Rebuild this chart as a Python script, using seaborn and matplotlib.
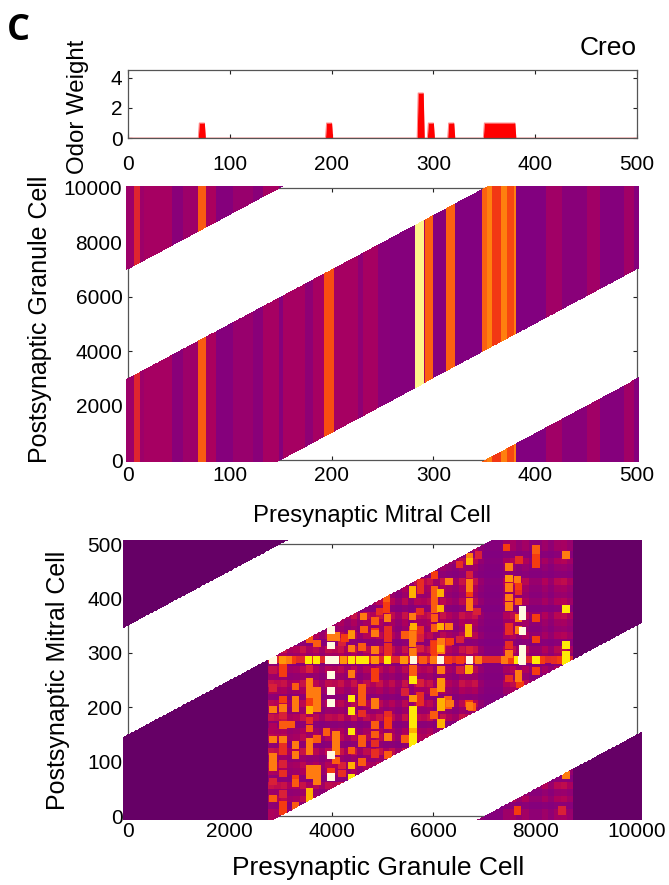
import matplotlib
matplotlib.use("Agg")
import matplotlib.pyplot as plt
import numpy as np
import seaborn as sns
from matplotlib.colors import LinearSegmentedColormap

W, H = 669, 885

# odor weight per mitral cell: start, end, weight
odor_bands = [(70, 75, 1), (195, 200, 1), (285, 290, 3), (295, 300, 1), (315, 320, 1), (350, 380, 1)]

# mitral cell column shading in the middle panel: end of band, level
mitral_ends = [6, 12, 16, 43, 54, 69, 77, 86, 103, 123, 133, 148, 152, 174, 182, 193, 202, 226, 231,
               246, 257, 282, 291, 292, 300, 312, 321, 348, 353, 358, 366, 372, 379, 381, 411, 426,
               451, 464, 487, 497, 501]
mitral_levels = [1.6, 3.2, 1.6, 1.8, 1.2, 1.6, 4.5, 1.9, 1.1, 1.5, 1.2, 1.8, 1.1, 1.8, 1.3, 1.8,
                 4.3, 1.8, 1.3, 1.8, 1.2, 1.1, 7.6, 2, 4.6, 1.1, 4.6, 1.05, 4.6, 5.1, 3.9, 5.1,
                 4.2, 5.1, 1.05, 1.7, 1.2, 1.7, 1.1, 1.7, 1.1]

# granule cell column background, one value per 125 cells from 2750 on
granule_base = [0.9, 0.8, 0.9, 0.5, 0.6, 0.9, 0.5, 0.7, 0.4, 0.8, 0.7, 0.9, 0.5, 0.9, 0.4, 0.8,
                0.6, 0.9, 0.5, 0.8, 0.4, 0.9, 0.3, 0.8, 0.7, 0.9, 0.4, 0.9, 0.6, 0.4, 0.9, 0.7,
                0.9, 0.3, 0.1, 0.1, 0.1, 0.6, 0.8, 0.4, 0.7, 0.3, 0.3, 0.6, 0.3, 0.7, 0.8, 0.5]
# mitral cell row background, one value per 12.5 cells
row_base = [0.3, 0.1, 0.4, 0.2, 0.5, 0.1, 0.3, 0.4, 0.2, 0.5, 0.1, 0.4, 0.3, 0.1, 0.5, 0.2,
            0.4, 0.1, 0.3, 0.5, 0.2, 0.4, 0.1, 0.3, 0.5, 0.1, 0.4, 0.2, 0.3, 0.5, 0.1, 0.4,
            0.2, 0.3, 0.5, 0.1, 0.2, 0.4, 0.1, 0.3]

# the strong row at mitral cell 287
ridge_x = [2855, 3032, 3150, 3229, 3543, 3707, 3936, 4067, 4231, 4381, 4558, 4657, 4853, 5096, 5423,
           5606, 5803, 6000, 6143, 6294, 6524, 6706, 6883, 7407, 7505, 7650, 7735, 8016, 8128, 8390,
           8500, 8600]
ridge_levels = [8, 5.5, 5, 4, 7, 7, 8, 8, 5.5, 7, 7, 7, 5.5, 7, 5.5,
                8, 4.5, 5, 8, 4, 4, 8, 5, 5, 4, 7, 8, 7, 4, 3.5,
                4, 7]

# bright cells: granule, mitral, level
left_cells = [
    (2849, 268, 2.5), (2849, 235, 3), (2849, 196, 5), (2849, 164, 2), (2849, 141, 5), (2849, 109, 5),
    (2849, 99, 5), (2849, 90, 5), (2849, 63, 3), (2849, 32, 4.5),
    (3045, 274, 4), (3045, 262, 4), (3045, 214, 4), (3045, 198, 5), (3045, 185, 3), (3045, 167, 4.5),
    (3045, 141, 5), (3045, 127, 3.5), (3045, 118, 3.5), (3045, 96, 3), (3045, 78, 3.5), (3045, 41, 3),
    (3045, 20, 4), (3045, 10, 4),
    (3281, 238, 4.5), (3281, 213, 5), (3281, 198, 5), (3200, 168, 4.5), (3281, 130, 5), (3281, 112, 5),
    (3281, 69, 4), (3281, 60, 4.5), (3281, 18, 4.5),
    (3556, 324, 4.5), (3556, 270, 3), (3556, 247, 5), (3556, 235, 5), (3556, 225, 5), (3556, 210, 4),
    (3556, 195, 6), (3556, 176, 3.5), (3556, 161, 4.5), (3556, 136, 5), (3556, 125, 5), (3556, 118, 5),
    (3556, 87, 5), (3556, 75, 5), (3556, 44, 6), (3556, 32, 6),
    (3713, 317, 4.5), (3713, 231, 5), (3713, 222, 5), (3713, 213, 5), (3713, 198, 5), (3713, 142, 4.5),
    (3713, 87, 5), (3713, 75, 5), (3713, 63, 5),
    (3988, 342, 8), (3988, 330, 5), (3988, 313, 8), (3988, 259, 8), (3988, 230, 8), (3988, 208, 8),
    (3900, 155, 4.5), (3988, 112, 8), (3988, 72, 8), (3988, 81, 4),
    (4086, 330, 5), (4086, 149, 5), (4086, 137, 5), (4086, 125, 5), (4086, 118, 5), (4086, 102, 4.5),
    (4200, 320, 3), (4200, 93, 3), (4200, 78, 3.5),
]
mid_cells = [
    (4381, 336, 5), (4381, 308, 4.5), (4381, 261, 5), (4381, 216, 7), (4381, 193, 7), (4381, 156, 7),
    (4381, 121, 4.5), (4381, 93, 6), (4381, 71, 7),
    (4597, 311, 4.5), (4597, 235, 4.5), (4597, 225, 4.5), (4597, 210, 4.5), (4597, 188, 3.5),
    (4597, 142, 4.5), (4597, 133, 4.5), (4597, 99, 4.5),
    (4853, 336, 5), (4853, 305, 5), (4853, 265, 4), (4853, 253, 4), (4853, 210, 5), (4853, 204, 5),
    (4853, 167, 4.5), (4853, 149, 4.5), (4853, 133, 3.5), (4853, 115, 3.5),
    (5108, 185, 3.5), (5108, 176, 4), (5108, 167, 4), (5108, 145, 5), (5108, 112, 4.5),
    (5442, 333, 4.5), (5442, 228, 3), (5442, 142, 4.5),
    (5599, 342, 4.5), (5599, 327, 4.5), (5599, 302, 4.5), (5599, 271, 4.5), (5599, 259, 4.5),
    (5599, 250, 7), (5599, 216, 5.5), (5599, 195, 7), (5599, 185, 7), (5599, 170, 7), (5599, 155, 6),
    (5599, 145, 7), (5599, 133, 7),
    (5737, 327, 3), (5737, 308, 3), (5737, 244, 3), (5737, 222, 3.5), (5737, 210, 3.5),
    (6011, 317, 3.5), (6011, 305, 3.5), (6011, 228, 4.5), (6011, 185, 4.5),
    (6149, 320, 5), (6149, 305, 5), (6149, 268, 5), (6149, 247, 5.5), (6149, 235, 5.5), (6149, 210, 6),
    (6149, 200, 6), (6149, 170, 6),
    (6287, 320, 3), (6287, 213, 4.5), (6287, 204, 4.5),
    (6699, 270, 6), (6699, 207, 4), (6760, 201, 4.5),
]
upper_cells = [
    (4623, 367, 5), (4853, 358, 4.5), (4853, 339, 4), (4637, 343, 4.5), (5082, 400, 4.5), (5082, 388, 4),
    (5082, 379, 4), (4938, 376, 3.5), (5095, 364, 5), (5115, 342, 3.5), (5115, 327, 3.5), (5115, 311, 3.5),
    (5115, 299, 3.5), (5593, 416, 6), (5593, 407, 6), (5750, 428, 3.5), (5750, 416, 3.5), (5593, 367, 5),
    (5606, 348, 6), (5593, 333, 5), (5593, 318, 5), (5593, 302, 5), (5737, 376, 3.5), (5750, 342, 3.5),
    (6032, 443, 4), (6020, 416, 4.5), (6020, 404, 4.5), (6020, 391, 4.5), (6020, 379, 4.5), (6020, 364, 4.5),
    (6020, 345, 4.5), (6020, 315, 4), (6020, 302, 4), (6143, 410, 6), (6143, 382, 6), (6143, 348, 6),
    (6143, 308, 6), (4388, 333, 5.5), (4388, 308, 5), (4263, 327, 4),
]
right_cells = [
    (6706, 468, 6), (6706, 477, 5), (6510, 462, 3.5), (6883, 480, 3), (6316, 431, 5), (6706, 444, 3),
    (6719, 428, 5), (6719, 419, 5), (6719, 410, 4), (6719, 394, 5), (6719, 385, 5), (6863, 376, 3),
    (6316, 348, 5), (6686, 345, 6), (6686, 336, 6), (6326, 321, 4), (6522, 324, 3), (6706, 305, 3),
    (6686, 268, 6), (6522, 268, 3), (6326, 207, 5), (6719, 202, 5),
    (7440, 493, 4), (7492, 458, 5), (7492, 437, 5.5), (7492, 420, 5), (7492, 402, 5), (7492, 385, 5),
    (7492, 348, 3.5), (7492, 339, 3.5), (7492, 315, 3.5), (7492, 298, 5), (7492, 253, 3.5),
    (7688, 470, 3.5), (7656, 434, 5), (7668, 422, 4), (7668, 413, 3.5), (7668, 394, 4.5), (7668, 364, 5),
    (7668, 342, 5), (7668, 262, 5), (7668, 253, 5), (7700, 242, 4),
    (7747, 379, 8), (7747, 367, 8), (7747, 340, 8), (7747, 308, 8), (7747, 296, 8), (7747, 284, 8),
    (8016, 490, 4.5), (8016, 474, 4), (8016, 462, 4), (8016, 364, 4), (8016, 324, 4), (8016, 267, 4),
    (8599, 480, 5), (8599, 380, 7), (8599, 315, 7), (8599, 296, 7), (8599, 284, 7),
    (8600, 76, 5), (7650, 10, 4), (8520, 10, 3),
]

x_ticks_mitral = [0, 100, 200, 300, 400, 500]
x_ticks_granule = [0, 2000, 4000, 6000, 8000, 10000]
y_ticks_granule = [0, 2000, 4000, 6000, 8000, 10000]
y_ticks_mitral = [0, 100, 200, 300, 400, 500]
y_ticks_odor = [0, 2, 4]

level_colors = ["#660066", "#800080", "#b0005a", "#d82038", "#f53a10", "#ff7a10", "#ffb000", "#ffe800", "#fffbe0"]
heat_cmap = LinearSegmentedColormap.from_list("heat", level_colors, N=256)

LINE = "#555555"


def panel(fig, left, top, right, bottom):
    return fig.add_axes([left / W, 1 - bottom / H, (right - left) / W, (bottom - top) / H])


def style_axes(ax, x_pad=4):
    for side in ax.spines:
        ax.spines[side].set_visible(True)
        ax.spines[side].set_color(LINE)
        ax.spines[side].set_linewidth(0.9)
    ax.tick_params(axis="both", which="major", direction="in", length=3, width=0.8, color="#222222",
                   top=True, right=True, bottom=True, left=True, labelsize=15, pad=4, labelcolor="black",
                   labelbottom=True, labelleft=True, labelrotation=0)
    ax.tick_params(axis="x", pad=x_pad)


def draw_heat(ax, grid, mask, x_step, y_step, pad_x, pad_y, x_ticks, y_ticks):
    sns.heatmap(grid, mask=mask, cmap=heat_cmap, vmin=0, vmax=8, cbar=False, ax=ax,
                xticklabels=False, yticklabels=False, linewidths=0)
    mesh = ax.collections[0]
    mesh.set_clip_on(False)
    mesh.set_zorder(3)
    ax.set_xlim(pad_x, grid.shape[1] - pad_x)
    ax.set_ylim(pad_y, grid.shape[0] - pad_y)
    ax.set_xticks([pad_x + t / x_step for t in x_ticks], labels=[str(t) for t in x_ticks])
    ax.set_yticks([pad_y + t / y_step for t in y_ticks], labels=[str(t) for t in y_ticks])
    style_axes(ax)


def mitral_heat():
    step_y = 10000 / 544
    xs = np.arange(-4, 1004) / 2 + 0.25
    ys = np.arange(-4, 548) * step_y + step_y / 2
    column = np.full(xs.size, mitral_levels[0], dtype=float)
    start = -5
    for end, level in zip(mitral_ends, mitral_levels):
        column[(xs >= start) & (xs < end)] = level
        start = end
    column[xs >= mitral_ends[-1]] = mitral_levels[-1]
    grid = np.tile(column, (ys.size, 1))
    offset = (ys[:, None] - 20 * xs[None, :] + 5000) % 10000 - 5000
    return grid, np.abs(offset) > 3000, step_y


def granule_heat():
    step_x, step_y = 12.5, 1.25
    xs = np.arange(-8, 808) * step_x + step_x / 2
    ys = np.arange(-6, 406) * step_y + step_y / 2
    grid = np.zeros((ys.size, xs.size))
    inside = (xs >= 2750) & (xs < 8750)
    col_idx = ((xs[inside] - 2750) // 125).astype(int)
    row_idx = np.clip((ys // 12.5).astype(int), 0, len(row_base) - 1)
    grid[:, inside] = 1 + 3.5 * np.array(granule_base)[col_idx][None, :] * np.array(row_base)[row_idx][:, None]
    # the wrapped upper left piece stays flat
    grid[np.ix_(ys > 340, xs < 3200)] = 0

    def paint(x, y, level):
        hit_x = np.abs(xs - x) < 74
        hit_y = np.abs(ys - y) < 7.0
        grid[np.ix_(hit_y, hit_x)] = np.maximum(grid[np.ix_(hit_y, hit_x)], level)

    # thin red line along the strong row
    grid[np.ix_(np.abs(ys - 287) < 6.25, inside)] = 3.4
    for x, level in zip(ridge_x, ridge_levels):
        paint(x, 287, level)
    for x, y, level in left_cells + mid_cells + upper_cells + right_cells:
        paint(x, y, level)

    offset = (ys[:, None] - xs[None, :] / 20 + 250) % 500 - 250
    return grid, np.abs(offset) > 150, step_x, step_y


def main():
    sns.set_style("white")
    plt.rcParams["font.family"] = ["Liberation Sans", "DejaVu Sans"]
    plt.rcParams["text.color"] = "black"

    fig = plt.figure(figsize=(W / 100, H / 100), dpi=100)

    # odor weight strip
    ax = panel(fig, 128, 70, 637, 138)
    weight = np.zeros(501)
    for start, end, value in odor_bands:
        weight[start:end + 1] = value
    cells = np.arange(501)
    ax.fill_between(cells, 0, weight, color="#ff0000", linewidth=0)
    sns.lineplot(x=cells, y=weight, color="#ff0000", linewidth=0.6, alpha=0.5, ax=ax)
    ax.set_xlim(0, 500)
    ax.set_ylim(0, 4.53)
    ax.set_xticks(x_ticks_mitral)
    ax.set_yticks(y_ticks_odor)
    style_axes(ax, x_pad=12)

    # mitral -> granule
    ax = panel(fig, 128, 188, 637, 460)
    grid, mask, step_y = mitral_heat()
    draw_heat(ax, grid, mask, 0.5, step_y, 4, 4, x_ticks_mitral, y_ticks_granule)

    # granule -> mitral
    ax = panel(fig, 128, 544, 637, 816)
    grid, mask, step_x, step_y = granule_heat()
    draw_heat(ax, grid, mask, step_x, step_y, 8, 6, x_ticks_granule, y_ticks_mitral)

    fig.text(7 / W, 1 - 31 / H, "C", fontsize=26, fontweight="bold", family="Open Sans", va="center", ha="left")
    fig.text(637 / W, 1 - 48 / H, "Creo", fontsize=19, va="center", ha="right")
    fig.text(78 / W, 1 - 107 / H, "Odor Weight", fontsize=17.3, rotation=90, va="center", ha="center")
    fig.text(40 / W, 1 - 319 / H, "Postsynaptic Granule Cell", fontsize=18, rotation=90, va="center", ha="center")
    fig.text(58 / W, 1 - 680 / H, "Postsynaptic Mitral Cell", fontsize=18, rotation=90, va="center", ha="center")
    fig.text(372 / W, 1 - 516 / H, "Presynaptic Mitral Cell", fontsize=17.2, va="center", ha="center")
    fig.text(378 / W, 1 - 868 / H, "Presynaptic Granule Cell", fontsize=19, va="center", ha="center")

    fig.savefig("out.png", dpi=100)
    plt.close(fig)


if __name__ == "__main__":
    main()
